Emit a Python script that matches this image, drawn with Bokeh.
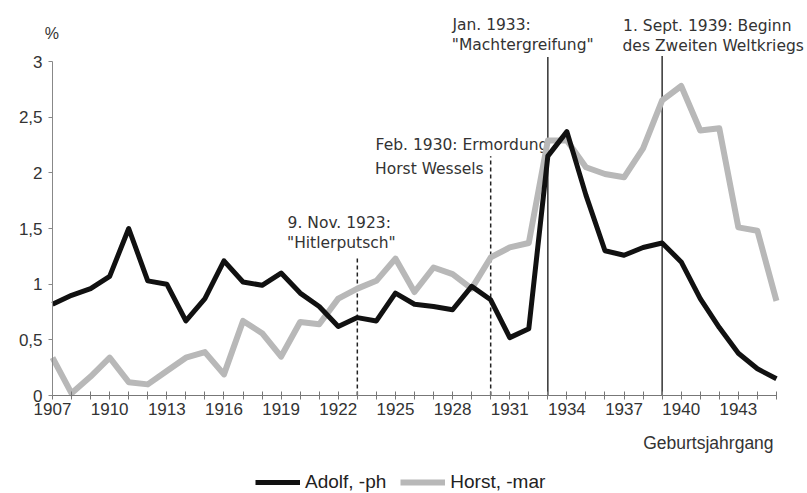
from bokeh.plotting import figure
from bokeh.models import FixedTicker, Label, Legend, LegendItem, Range1d
from bokeh.core.properties import value
from bokeh.embed import file_html
from bokeh.resources import INLINE

years = list(range(1907, 1946))
adolf = [0.82, 0.90, 0.96, 1.07, 1.50, 1.03, 1.00, 0.67, 0.87, 1.21,
         1.02, 0.99, 1.10, 0.92, 0.80, 0.62, 0.70, 0.67, 0.92, 0.82,
         0.80, 0.77, 0.98, 0.86, 0.52, 0.60, 2.15, 2.37, 1.80, 1.30,
         1.26, 1.33, 1.37, 1.20, 0.87, 0.61, 0.38, 0.24, 0.15]
horst = [0.34, 0.02, 0.17, 0.34, 0.12, 0.10, 0.22, 0.34, 0.39, 0.19,
         0.67, 0.56, 0.35, 0.66, 0.64, 0.87, 0.96, 1.03, 1.23, 0.93,
         1.15, 1.09, 0.96, 1.24, 1.33, 1.37, 2.29, 2.29, 2.05, 1.99,
         1.96, 2.22, 2.65, 2.78, 2.38, 2.40, 1.51, 1.48, 0.85]
x_label_years = [1907, 1910, 1913, 1916, 1919, 1922, 1925, 1928, 1931, 1934, 1937, 1940, 1943]
y_ticks = [0, 0.5, 1, 1.5, 2, 2.5, 3]
y_tick_labels = ["0", "0,5", "1", "1,5", "2", "2,5", "3"]

dashed_events = [1923, 1930]
dashed_tops = [1.24, 2.15]
solid_events = [1933, 1939]
solid_tops = [3.04, 3.05]

annotations = [
    ("9. Nov. 1923:", "\"Hitlerputsch\""),
    ("Feb. 1930: Ermordung", "Horst Wessels"),
    ("Jan. 1933:", "\"Machtergreifung\""),
    ("1. Sept. 1939: Beginn", "des Zweiten Weltkriegs"),
]
series_names = ["Adolf, -ph", "Horst, -mar"]

W, H = 807, 493
p = figure(width=W, height=H, output_backend="svg", toolbar_location=None,
           x_range=Range1d(1904.27, 1946.63), y_range=Range1d(-0.880, 3.548),
           min_border_left=0, min_border_right=0, min_border_top=0,
           min_border_bottom=0)
p.outline_line_color = None
p.grid.visible = False
p.background_fill_color = "white"
p.border_fill_color = "white"

# event lines
p.segment(x0=dashed_events, y0=[0] * len(dashed_events), x1=dashed_events, y1=dashed_tops,
          line_color="#222222", line_width=1.5, line_dash="4 3")
p.segment(x0=solid_events, y0=[0] * len(solid_events), x1=solid_events, y1=solid_tops,
          line_color="#333333", line_width=1.5)

# annotation texts (positions in data coords)
ann_pos = [(1919.34, 1.554, 1.374), (1923.96, 2.246, 2.039),
           (1927.99, 3.332, 3.144), (1936.95, 3.323, 3.135)]
for (l1, l2), (ax, ay1, ay2) in zip(annotations, ann_pos):
    p.text(x=[ax, ax - 0.03], y=[ay1, ay2], text=[l1, l2],
           text_font=value("DejaVu Sans"), text_font_size="15.5px",
           text_color="#333333", text_align="left", text_baseline="middle")

gray = p.line(years, horst, line_color="#b8b8b8", line_width=6, line_join="round")
black = p.line(years, adolf, line_color="#111111", line_width=5, line_join="round")

# axes
xa = p.xaxis[0]
xa.fixed_location = 0
xa.bounds = (1907, 1945)
xa.ticker = FixedTicker(ticks=years)
xa.major_label_overrides = {y: (str(y) if y in x_label_years else "") for y in years}
xa.minor_tick_line_color = None
xa.major_tick_in = 4
xa.major_tick_out = 4
xa.axis_line_color = "#777777"
xa.major_tick_line_color = "#777777"
xa.major_label_standoff = 3
xa.major_label_text_font = "Liberation Sans"
xa.major_label_text_font_size = "17px"
xa.major_label_text_color = "#333333"

ya = p.yaxis[0]
ya.fixed_location = 1907
ya.bounds = (0, 3)
ya.ticker = FixedTicker(ticks=y_ticks)
ya.major_label_overrides = {t: l for t, l in zip(y_ticks, y_tick_labels)}
ya.minor_tick_line_color = None
ya.major_tick_in = 0
ya.major_tick_out = 4
ya.axis_line_color = "#888888"
ya.major_tick_line_color = "#888888"
ya.major_label_standoff = 6
ya.major_label_text_font = "Liberation Sans"
ya.major_label_text_font_size = "17px"
ya.major_label_text_color = "#333333"

p.add_layout(Label(x=1906.97, y=3.25, text="%", text_align="center", text_baseline="middle",
                   text_font="Liberation Sans", text_font_size="16px", text_color="#333333"))
p.add_layout(Label(x=1944.85, y=-0.422, text="Geburtsjahrgang", text_align="right",
                   text_baseline="middle", text_font="Liberation Sans", text_font_size="17.5px",
                   text_color="#333333"))

legend = Legend(items=[LegendItem(label=series_names[0], renderers=[black]),
                       LegendItem(label=series_names[1], renderers=[gray])],
                orientation="horizontal", location=(255, 0),
                padding=0, spacing=14, label_standoff=5, glyph_width=45,
                glyph_height=20, label_height=20, border_line_color=None,
                background_fill_alpha=0, label_text_font="Liberation Sans",
                label_text_font_size="19px", label_text_color="#222222")
p.add_layout(legend, "center")

open("out.html", "w").write(file_html(p, INLINE))
